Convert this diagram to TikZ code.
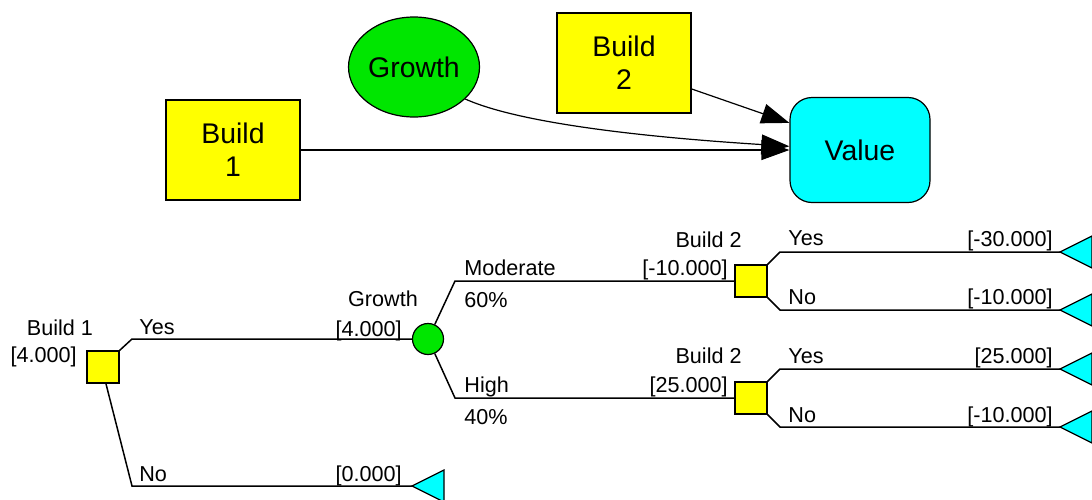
\documentclass[tikz,border=0pt]{standalone}
\usepackage{fontspec}
\setmainfont{Liberation Sans}
\usetikzlibrary{shapes.geometric,arrows.meta}
\definecolor{dyellow}{RGB}{255,255,0}
\definecolor{dgreen}{RGB}{0,230,0}
\definecolor{dcyan}{RGB}{0,255,255}
\tikzset{
  infl/.style={draw, line width=0.6pt, font=\fontsize{14.2}{16.5}\selectfont, align=center, inner sep=0pt},
  decbox/.style={infl, fill=dyellow, minimum width=67pt, minimum height=50pt},
  chance/.style={infl, ellipse, fill=dgreen, minimum width=65.5pt, minimum height=50pt},
  valbox/.style={infl, fill=dcyan, rounded corners=11pt, minimum width=70pt, minimum height=52.5pt},
  arc/.style={line width=0.6pt, -{Triangle[length=14pt,width=10pt]}},
  dnode/.style={draw, fill=dyellow, minimum size=16pt, inner sep=0pt, line width=0.6pt},
  cnode/.style={draw, circle, fill=dgreen, minimum size=15.5pt, inner sep=0pt, line width=0.6pt},
  branch/.style={line width=0.75pt},
  lbl/.style={font=\fontsize{10.8}{13}\selectfont, inner sep=0pt},
}
\newcommand{\payoff}[1]{\filldraw[fill=dcyan, line width=0.6pt] (#1) -- ++(32,-16) -- ++(0,32) -- cycle;}

\begin{document}
\begin{tikzpicture}[x=0.5pt,y=-0.5pt]
\useasboundingbox (0,0) rectangle (1092,499);

\node[decbox] (b1) at (233,150) {Build\\1};
\node[chance] (gr) at (414,67) {Growth};
\node[decbox] (b2) at (624,63) {Build\\2};
\node[valbox] (val) at (860,150) {Value};

\draw[arc] (b1.east) -- (val.west);
\draw[arc] (gr.-32) .. controls (530,128) and (690,140) .. (val.177);
\draw[arc] (b2.-21) -- (val.159);

\node[dnode] (d1) at (103,367) {};
\node[cnode] (c1) at (428,339) {};
\node[dnode] (d2) at (751,281) {};
\node[dnode] (d3) at (751,398) {};

\coordinate (yb) at (132,339);
\coordinate (nb) at (132,486);
\coordinate (mb) at (455,281);
\coordinate (hb) at (455,398);
\coordinate (y2b) at (780,252);
\coordinate (n2b) at (780,310);
\coordinate (y3b) at (780,369);
\coordinate (n3b) at (780,427);
\coordinate (t0) at (412,486);
\coordinate (t1) at (1060,252);
\coordinate (t2) at (1060,310);
\coordinate (t3) at (1060,369);
\coordinate (t4) at (1060,427);

\draw[branch] (d1.north east) -- (yb) -- (c1.west);
\draw[branch] (d1.-80) -- (nb) -- (t0);
\draw[branch] (c1.65) -- (mb) -- (d2.west);
\draw[branch] (c1.-65) -- (hb) -- (d3.west);
\draw[branch] (d2.north east) -- (y2b) -- (t1);
\draw[branch] (d2.south east) -- (n2b) -- (t2);
\draw[branch] (d3.north east) -- (y3b) -- (t3);
\draw[branch] (d3.south east) -- (n3b) -- (t4);

\payoff{t0}
\payoff{t1}
\payoff{t2}
\payoff{t3}
\payoff{t4}

\node[lbl, anchor=base] (lb1) at (60,335) {Build 1};
\node[lbl, anchor=base east] (vb1) at (77,362) {[4.000]};
\node[lbl, anchor=base west] (lyes1) at (139,334) {Yes};
\node[lbl, anchor=base west] (lno1) at (139,481) {No};
\node[lbl, anchor=base east] (vno1) at (402,481) {[0.000]};
\node[lbl, anchor=base] (lgr) at (383,306) {Growth};
\node[lbl, anchor=base east] (vgr) at (402,336) {[4.000]};

\node[lbl, anchor=base west] (lmod) at (464,275) {Moderate};
\node[lbl, anchor=base west] (pmod) at (464,307) {60\%};
\node[lbl, anchor=base west] (lhigh) at (464,392) {High};
\node[lbl, anchor=base west] (phigh) at (464,424) {40\%};

\node[lbl, anchor=base east] (lb2a) at (742,247) {Build 2};
\node[lbl, anchor=base east] (vb2a) at (728,275) {[-10.000]};
\node[lbl, anchor=base east] (lb2b) at (742,363) {Build 2};
\node[lbl, anchor=base east] (vb2b) at (728,392) {[25.000]};

\node[lbl, anchor=base west] (lyes2) at (788,245) {Yes};
\node[lbl, anchor=base east] (vyes2) at (1053,246) {[-30.000]};
\node[lbl, anchor=base west] (lno2) at (788,304) {No};
\node[lbl, anchor=base east] (vno2) at (1053,304) {[-10.000]};
\node[lbl, anchor=base west] (lyes3) at (788,363) {Yes};
\node[lbl, anchor=base east] (vyes3) at (1053,363) {[25.000]};
\node[lbl, anchor=base west] (lno3) at (788,422) {No};
\node[lbl, anchor=base east] (vno3) at (1053,422) {[-10.000]};
\end{tikzpicture}
\end{document}
